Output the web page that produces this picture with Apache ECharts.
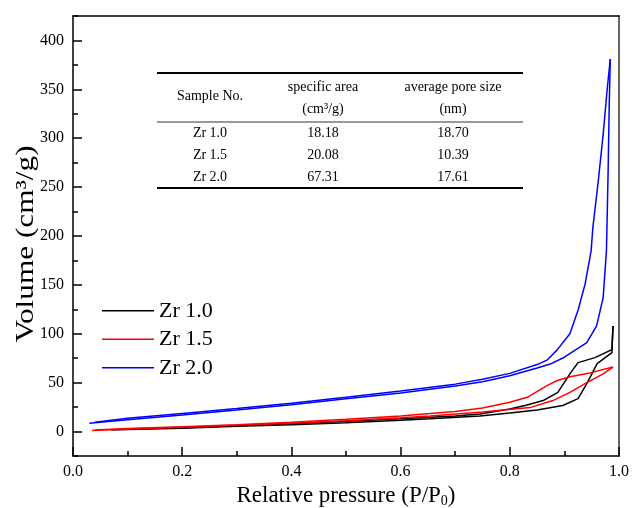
<!DOCTYPE html>
<html>
<head>
<meta charset="utf-8">
<script src="https://cdn.jsdelivr.net/npm/echarts@6/dist/echarts.min.js"></script>
<style>html,body{margin:0;padding:0;background:#fff;}#c{width:632px;height:508px;}</style>
</head>
<body>
<div id="c"></div>
<script>
// ---- data ----
var seriesNames = ['Zr 1.0', 'Zr 1.5', 'Zr 2.0'];
var seriesColors = ['#000000', '#ff0000', '#0000ff'];

var zr10AdsX = [0.07, 0.1, 0.2, 0.3, 0.4, 0.5, 0.6, 0.654, 0.745, 0.8, 0.85, 0.897, 0.925, 0.941, 0.96, 0.987, 0.989];
var zr10AdsY = [1.5, 2, 3.5, 5.5, 7, 9, 11.5, 13, 16, 19, 22, 26.6, 33.7, 49, 69.5, 80.7, 108];
var zr10DesX = [0.989, 0.987, 0.956, 0.925, 0.91, 0.888, 0.861, 0.83, 0.8, 0.745, 0.7, 0.6, 0.5, 0.4, 0.3, 0.2, 0.1];
var zr10DesY = [108, 83.8, 75.6, 70.5, 59, 40, 31.7, 27, 23, 18, 16, 13, 10.5, 8, 6, 4, 2.5];

var zr15AdsX = [0.035, 0.1, 0.2, 0.3, 0.4, 0.5, 0.6, 0.654, 0.75, 0.837, 0.879, 0.91, 0.941, 0.971, 0.989];
var zr15AdsY = [1.2, 2.5, 4.5, 6.5, 8.5, 11, 14, 16, 20, 24.5, 31.7, 40, 50, 59, 66];
var zr15DesX = [0.989, 0.947, 0.91, 0.886, 0.868, 0.832, 0.8, 0.75, 0.7, 0.654, 0.6, 0.5, 0.4, 0.3, 0.2, 0.1, 0.04];
var zr15DesY = [66, 60, 56, 52, 47, 35, 30, 24, 20.5, 18.4, 16, 12.5, 9.5, 7, 5, 3, 1.5];

var zr20AdsX = [0.03, 0.1, 0.2, 0.3, 0.4, 0.5, 0.6, 0.7, 0.75, 0.8, 0.85, 0.874, 0.9, 0.941, 0.959, 0.971, 0.977, 0.980, 0.982, 0.984];
var zr20AdsY = [8.5, 12, 17, 22, 27.5, 33.5, 39.5, 46.5, 51, 57, 65, 69, 76, 91, 108, 137, 185, 264, 331, 381];
var zr20DesX = [0.984, 0.978, 0.971, 0.962, 0.952, 0.949, 0.938, 0.925, 0.91, 0.886, 0.868, 0.85, 0.8, 0.75, 0.7, 0.6, 0.5, 0.4, 0.3, 0.2, 0.1, 0.04];
var zr20DesY = [381, 348, 304, 256, 208, 185, 151, 124, 100, 83, 73, 68.5, 59.5, 53.5, 48.5, 41.5, 35, 29, 23.5, 18.5, 13.5, 9.5];

var xTicks = [0, 0.2, 0.4, 0.6, 0.8, 1.0];
var yMajorTicks = [0, 50, 100, 150, 200, 250, 300, 350, 400];
var yMinorTicks = [-25, 25, 75, 125, 175, 225, 275, 325, 375, 425];

var tableHeader = [['Sample No.'], ['specific area', '(cm\u00b3/g)'], ['average pore size', '(nm)']];
var tableSamples = ['Zr 1.0', 'Zr 1.5', 'Zr 2.0'];
var tableArea = ['18.18', '20.08', '67.31'];
var tablePore = ['18.70', '10.39', '17.61'];

// ---- build ----
function pairs(xs, ys) { return xs.map(function (x, i) { return [x, ys[i]]; }); }
var dataSets = [
  [pairs(zr10AdsX, zr10AdsY), pairs(zr10DesX, zr10DesY)],
  [pairs(zr15AdsX, zr15AdsY), pairs(zr15DesX, zr15DesY)],
  [pairs(zr20AdsX, zr20AdsY), pairs(zr20DesX, zr20DesY)]
];
var FONT = '"Liberation Serif", "Times New Roman", serif';
var series = [];
dataSets.forEach(function (pair, i) {
  pair.forEach(function (d) {
    series.push({
      name: seriesNames[i], type: 'line', data: d, symbol: 'none', smooth: false,
      xAxisIndex: 0, yAxisIndex: 0,
      lineStyle: { color: seriesColors[i], width: 1.5 }, itemStyle: { color: seriesColors[i] },
      animation: false
    });
  });
});

// table graphics
var colX = [210, 323, 453];
var g = [];
function txt(s, x, y) {
  g.push({ type: 'text', x: x, y: y, style: { text: s, font: '14px ' + FONT, fill: '#000', align: 'center', verticalAlign: 'middle' } });
}
function rule(y, w) {
  g.push({ type: 'line', shape: { x1: 157, y1: y, x2: 523, y2: y }, style: { stroke: '#000', lineWidth: w } });
}
rule(73, 2); rule(122, 0.8); rule(188, 2);
txt(tableHeader[0][0], colX[0], 96);
txt(tableHeader[1][0], colX[1], 87); txt(tableHeader[1][1], colX[1], 109);
txt(tableHeader[2][0], colX[2], 87); txt(tableHeader[2][1], colX[2], 109);
var rowY = [133, 155, 177];
tableSamples.forEach(function (s, i) {
  txt(s, colX[0], rowY[i]); txt(tableArea[i], colX[1], rowY[i]); txt(tablePore[i], colX[2], rowY[i]);
});
// y axis title (stretched along its length like the reference)
g.push({
  type: 'text', x: 26, y: 244, rotation: Math.PI / 2, scaleX: 1.25,
  style: { text: 'Volume (cm\u00b3/g)', font: '25px ' + FONT, fill: '#000', align: 'center', verticalAlign: 'middle' }
});

var chart = echarts.init(document.getElementById('c'), null, { renderer: 'canvas' });
chart.setOption({
  backgroundColor: '#fff',
  animation: false,
  grid: { left: 73, right: 13, top: 16, bottom: 52, containLabel: false, outerBoundsMode: 'none' },
  legend: {
    orient: 'vertical', left: 97, top: 292, itemWidth: 52, itemHeight: 14, itemGap: 1,
    data: seriesNames,
    textStyle: { fontFamily: FONT, fontSize: 22, color: '#000', lineHeight: 27.5 },
    icon: 'path://M0,0 L52,0 L52,1.5 L0,1.5 Z'
  },
  xAxis: [{
    type: 'value', min: 0, max: 1, interval: 0.2, position: 'bottom',
    axisLine: { show: true, onZero: false, lineStyle: { color: '#000', width: 1.5 } },
    axisTick: { show: true, inside: true, length: 9, lineStyle: { color: '#000', width: 1.5 } },
    minorTick: { show: true, splitNumber: 2, length: 5, lineStyle: { color: '#000', width: 1.5 } },
    splitLine: { show: false },
    axisLabel: { fontFamily: FONT, fontSize: 16, color: '#000', margin: 8, formatter: function (v) { return v.toFixed(1); } },
    name: 'Relative pressure (P/P{sub|0})', nameLocation: 'middle', nameGap: 27,
    nameTextStyle: { fontFamily: FONT, fontSize: 23, color: '#000', rich: { sub: { fontFamily: FONT, fontSize: 14, color: '#000', padding: [10, 0, 0, 0] } } }
  }, {
    type: 'value', min: 0, max: 1, position: 'top',
    axisLine: { show: true, onZero: false, lineStyle: { color: '#000', width: 1.5 } },
    axisTick: { show: false }, axisLabel: { show: false }, splitLine: { show: false }
  }],
  yAxis: [{
    type: 'value', min: -25, max: 425, interval: 25, position: 'left',
    axisLine: { show: true, onZero: false, lineStyle: { color: '#000', width: 1.5 } },
    axisTick: { show: true, inside: true, length: 9, customValues: yMajorTicks, lineStyle: { color: '#000', width: 1.5 } },
    splitLine: { show: false },
    axisLabel: { fontFamily: FONT, fontSize: 16, color: '#000', margin: 9, customValues: yMajorTicks }
  }, {
    type: 'value', min: -25, max: 425, interval: 25, position: 'left',
    axisLine: { show: false }, axisLabel: { show: false }, splitLine: { show: false },
    axisTick: { show: true, inside: true, length: 5, customValues: yMinorTicks, lineStyle: { color: '#000', width: 1.5 } }
  }, {
    type: 'value', min: -25, max: 425, position: 'right',
    axisLine: { show: true, onZero: false, lineStyle: { color: '#666', width: 2 } },
    axisTick: { show: false }, axisLabel: { show: false }, splitLine: { show: false }
  }],
  graphic: g,
  series: series
});
</script>
</body>
</html>
